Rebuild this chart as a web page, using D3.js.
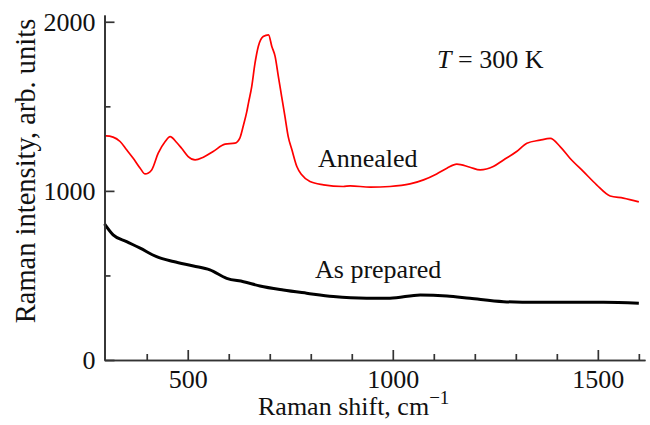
<!DOCTYPE html>
<html>
<head>
<meta charset="utf-8">
<script src="https://cdn.jsdelivr.net/npm/d3@7"></script>
<style>
  body { margin: 0; background: #fff; }
  svg { display: block; }
</style>
</head>
<body>
<svg id="chart"></svg>
<script>
// values (Raman shift in cm^-1, intensity in arb. units)
const annealedShift = [297, 301, 318, 335, 351, 367, 384, 396, 412, 428, 445, 457, 473, 485, 501, 518, 538, 562,
  591, 615, 627, 636, 644, 648, 656, 664, 672, 684, 697, 705, 713, 721, 729, 737, 745, 754, 766, 778, 798, 831,
  879, 896, 945, 993, 1042, 1075, 1107, 1132, 1156, 1188, 1213, 1245, 1270, 1302, 1327, 1359, 1384, 1408, 1432,
  1465, 1497, 1530, 1562, 1600];
const annealedIntensity = [1320, 1325, 1318, 1292, 1243, 1193, 1134, 1100, 1124, 1223, 1292, 1321, 1286, 1252,
  1203, 1183, 1199, 1233, 1276, 1282, 1312, 1390, 1469, 1519, 1617, 1755, 1854, 1913, 1923, 1854, 1795, 1676,
  1558, 1440, 1321, 1243, 1144, 1095, 1055, 1036, 1026, 1030, 1022, 1026, 1041, 1065, 1100, 1134, 1158, 1140,
  1124, 1144, 1183, 1233, 1282, 1300, 1310, 1262, 1193, 1114, 1036, 970, 957, 935];

const preparedShift = [297, 318, 351, 384, 424, 465, 514, 554, 595, 636, 676, 733, 790, 855, 936, 993, 1067,
  1132, 1188, 1270, 1351, 1432, 1514, 1600];
const preparedIntensity = [805, 740, 700, 661, 611, 582, 556, 533, 483, 463, 438, 414, 395, 375, 365, 365, 385,
  379, 365, 345, 341, 341, 341, 335];

const xMajor = [500, 1000, 1500];
const xMinor = [400, 600, 700, 800, 900, 1100, 1200, 1300, 1400, 1600];
const yMajor = [0, 1000, 2000];
const yMinor = [500, 1500];

const width = 650, height = 425;
const margin = {top: 15, right: 5, bottom: 65, left: 104.5};
const font = "'Liberation Serif', 'Times New Roman', serif";
const fs = 26;

const svg = d3.select("#chart")
  .attr("width", width)
  .attr("height", height)
  .attr("font-family", font);

const x = d3.scaleLinear([297, 1615], [margin.left, width - margin.right]);
const y = d3.scaleLinear([0, 2040], [height - margin.bottom, margin.top]);

const line = d3.line()
  .x(d => x(d[0]))
  .y(d => y(d[1]))
  .curve(d3.curveMonotoneX);

svg.append("path")
  .datum(d3.zip(preparedShift, preparedIntensity))
  .attr("fill", "none")
  .attr("stroke", "#000")
  .attr("stroke-width", 3)
  .attr("d", line);

svg.append("path")
  .datum(d3.zip(annealedShift, annealedIntensity))
  .attr("fill", "none")
  .attr("stroke", "#ff0000")
  .attr("stroke-width", 1.7)
  .attr("d", line);

// axes, ticks pointing inwards
function styleAxis(g) {
  g.selectAll("path, line").attr("stroke", "#333").attr("stroke-width", 1.7);
  g.selectAll("text").attr("fill", "#111").attr("font-family", font).attr("font-size", fs);
}

svg.append("g")
  .attr("transform", `translate(0,${height - margin.bottom})`)
  .call(d3.axisBottom(x).tickValues(xMinor).tickSize(-6).tickSizeOuter(0).tickFormat(""))
  .call(styleAxis);
svg.append("g")
  .attr("transform", `translate(0,${height - margin.bottom})`)
  .call(d3.axisBottom(x).tickValues(xMajor).tickSize(-10).tickSizeOuter(0).tickPadding(10)
    .tickFormat(d3.format("d")))
  .call(styleAxis);

svg.append("g")
  .attr("transform", `translate(${margin.left},0)`)
  .call(d3.axisLeft(y).tickValues(yMinor).tickSize(-6).tickSizeOuter(0).tickFormat(""))
  .call(styleAxis);
svg.append("g")
  .attr("transform", `translate(${margin.left},0)`)
  .call(d3.axisLeft(y).tickValues(yMajor).tickSize(-10).tickSizeOuter(0).tickPadding(9)
    .tickFormat(d3.format("d")))
  .call(styleAxis);

// axis titles
const xTitle = svg.append("text")
  .attr("x", 258)
  .attr("y", 415)
  .attr("font-size", fs)
  .attr("fill", "#111");
xTitle.append("tspan").text("Raman shift, cm");
xTitle.append("tspan").attr("dy", -11).attr("font-size", 19).text("\u22121");

svg.append("text")
  .attr("transform", "translate(35,171) rotate(-90)")
  .attr("text-anchor", "middle")
  .attr("font-size", 28.5)
  .attr("fill", "#111")
  .text("Raman intensity, arb. units");

// annotations
const tLabel = svg.append("text")
  .attr("x", 437)
  .attr("y", 68)
  .attr("font-size", fs)
  .attr("fill", "#111");
tLabel.append("tspan").attr("font-style", "italic").text("T");
tLabel.append("tspan").text(" = 300 K");

svg.append("text")
  .attr("x", 318)
  .attr("y", 167)
  .attr("font-size", fs)
  .attr("fill", "#111")
  .text("Annealed");

svg.append("text")
  .attr("x", 315)
  .attr("y", 278)
  .attr("font-size", fs)
  .attr("fill", "#111")
  .text("As prepared");
</script>
</body>
</html>
